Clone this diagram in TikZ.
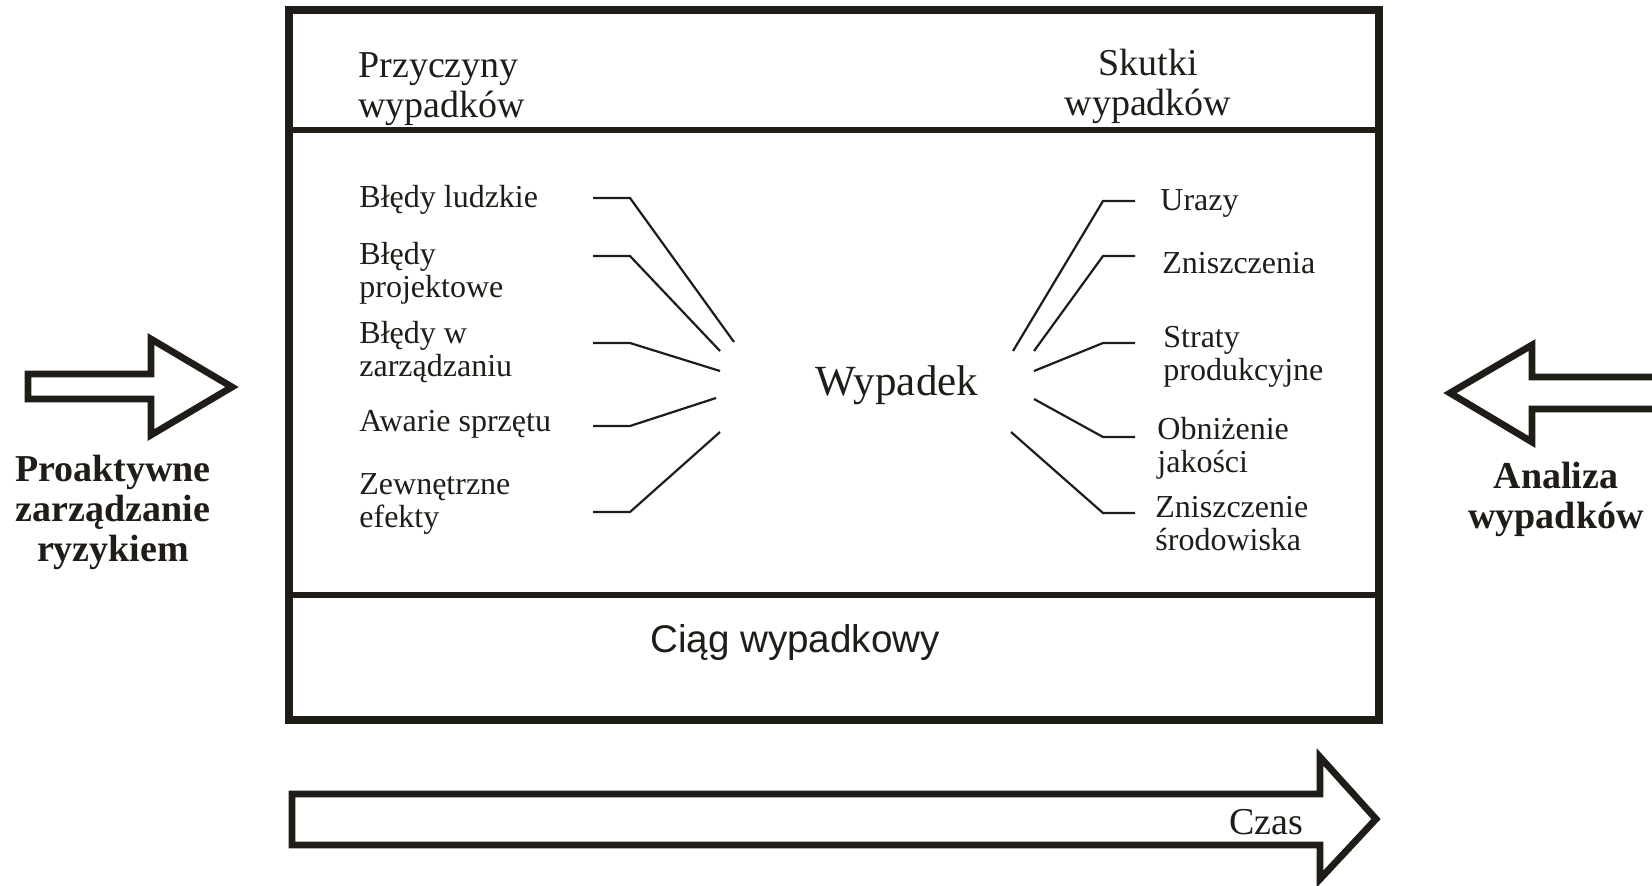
\documentclass[tikz,border=0pt]{standalone}
\usepackage{fontspec}
\setmainfont{Liberation Serif}
\setsansfont{Liberation Sans}
\definecolor{ink}{RGB}{32,28,24}

\begin{document}
\begin{tikzpicture}[x=0.5pt, y=-0.5pt,
    frame/.style={draw=ink, line width=3.8pt},
    divider/.style={draw=ink, line width=2.6pt},
    link/.style={draw=ink, line width=1.1pt},
    blockarrow/.style={draw=ink, line width=3.4pt, line join=miter},
    head/.style={font=\fontsize{19}{20}\selectfont, inner sep=0pt, text=ink},
    item/.style={font=\fontsize{16}{16.5}\selectfont, align=left, anchor=west, inner sep=0pt, text=ink},
    side/.style={font=\bfseries\fontsize{19}{20}\selectfont, align=center, inner sep=0pt, text=ink}]
    \useasboundingbox (0,0) rectangle (1652,885);
    % frame
    \draw[frame] (289,10) rectangle (1379,720);
    \draw[divider] (289,130) -- (1379,130);
    \draw[divider] (289,595) -- (1379,595);
    % headers
    \node[head, align=left, anchor=west] (causes) at (358,89) {Przyczyny\\wypadków};
    \node[head, align=center] (effects) at (1148,86) {Skutki\\wypadków};
    % centre
    \node[font=\fontsize{21.5}{22}\selectfont, inner sep=0pt, text=ink] (accident) at (897,385) {Wypadek};
    \node[font=\sffamily\fontsize{19.3}{20}\selectfont, inner sep=0pt, text=ink] (chain) at (795,643) {Ciąg wypadkowy};
    % causes
    \node[item] (human) at (359,200) {Błędy ludzkie};
    \node[item] (design) at (359,273) {Błędy\\projektowe};
    \node[item] (management) at (359,352) {Błędy w\\zarządzaniu};
    \node[item] (failure) at (359,424) {Awarie sprzętu};
    \node[item] (external) at (359,504) {Zewnętrzne\\efekty};
    % effects
    \node[item] (injuries) at (1160,203) {Urazy};
    \node[item] (damage) at (1162,263) {Zniszczenia};
    \node[item] (losses) at (1163,357) {Straty\\produkcyjne};
    \node[item] (quality) at (1157,448) {Obniżenie\\jakości};
    \node[item] (environment) at (1155,524) {Zniszczenie\\środowiska};
    % cause lines
    \coordinate (h1) at (593,198); \coordinate (h1b) at (630,198); \coordinate (h1e) at (734,342);
    \coordinate (h2) at (593,256); \coordinate (h2b) at (630,256); \coordinate (h2e) at (720,351);
    \coordinate (h3) at (593,343); \coordinate (h3b) at (630,343); \coordinate (h3e) at (720,371);
    \coordinate (h4) at (593,426); \coordinate (h4b) at (630,426); \coordinate (h4e) at (716,398);
    \coordinate (h5) at (593,512); \coordinate (h5b) at (630,512); \coordinate (h5e) at (720,432);
    \draw[link] (h1) -- (h1b) -- (h1e);
    \draw[link] (h2) -- (h2b) -- (h2e);
    \draw[link] (h3) -- (h3b) -- (h3e);
    \draw[link] (h4) -- (h4b) -- (h4e);
    \draw[link] (h5) -- (h5b) -- (h5e);
    % effect lines
    \coordinate (s1) at (1135,201); \coordinate (s1b) at (1103,201); \coordinate (s1e) at (1013,351);
    \coordinate (s2) at (1135,256); \coordinate (s2b) at (1103,256); \coordinate (s2e) at (1034,351);
    \coordinate (s3) at (1135,343); \coordinate (s3b) at (1103,343); \coordinate (s3e) at (1034,371);
    \coordinate (s4) at (1135,437); \coordinate (s4b) at (1103,437); \coordinate (s4e) at (1034,399);
    \coordinate (s5) at (1135,513); \coordinate (s5b) at (1103,513); \coordinate (s5e) at (1011,432);
    \draw[link] (s1) -- (s1b) -- (s1e);
    \draw[link] (s2) -- (s2b) -- (s2e);
    \draw[link] (s3) -- (s3b) -- (s3e);
    \draw[link] (s4) -- (s4b) -- (s4e);
    \draw[link] (s5) -- (s5b) -- (s5e);
    % block arrows
    \draw[blockarrow] (28,374) -- (151,374) -- (151,339) -- (232,387) -- (151,435) -- (151,399) -- (28,399) -- cycle;
    \draw[blockarrow] (1665,377) -- (1532,377) -- (1532,345) -- (1450,393) -- (1532,442) -- (1532,409) -- (1665,409);
    \draw[blockarrow] (292,794) -- (1320,794) -- (1320,757) -- (1376,819) -- (1320,879) -- (1320,845) -- (292,845) -- cycle;
    % arrow labels
    \node[side] (proactive) at (113,512) {Proaktywne\\zarządzanie\\ryzykiem};
    \node[side] (analysis) at (1556,499) {Analiza\\wypadków};
    \node[font=\fontsize{19}{20}\selectfont, inner sep=0pt, text=ink] (time) at (1266,822) {Czas};
\end{tikzpicture}
\end{document}
